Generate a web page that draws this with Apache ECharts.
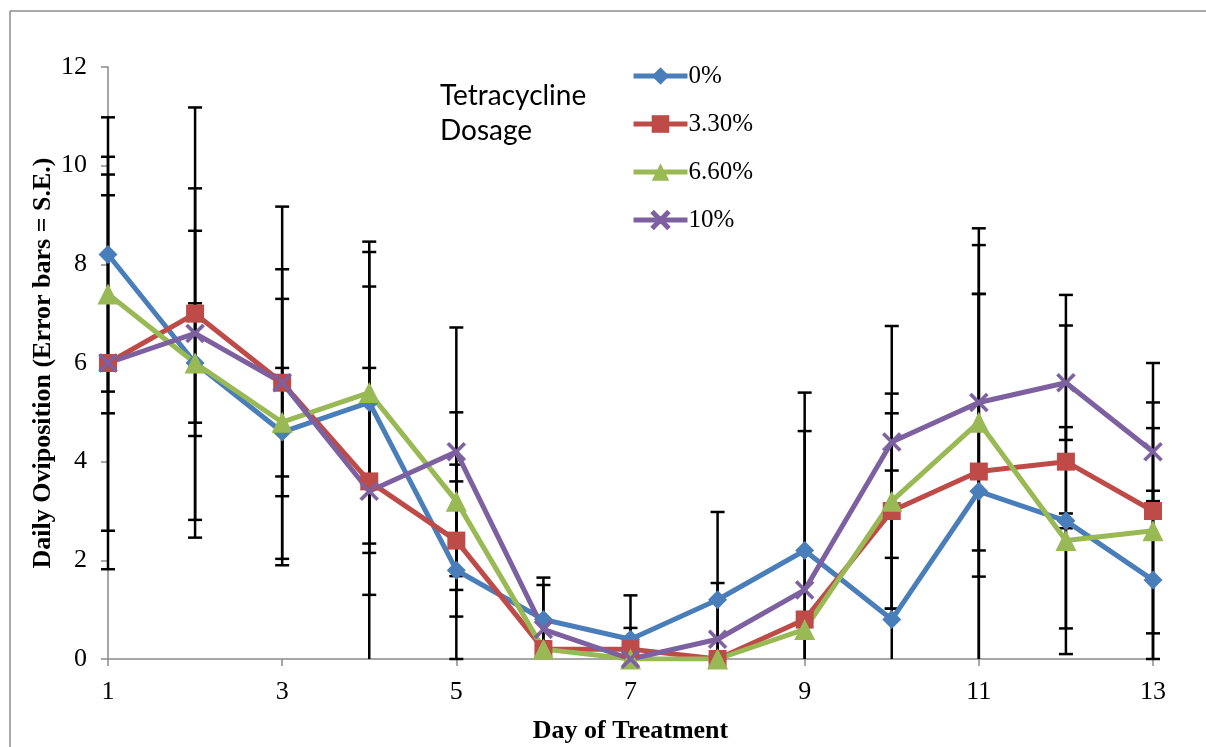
<!DOCTYPE html>
<html>
<head>
<meta charset="utf-8">
<title>Daily Oviposition by Tetracycline Dosage</title>
<script src="https://cdn.jsdelivr.net/npm/echarts@6/dist/echarts.min.js"></script>
<style>
  html, body { margin: 0; padding: 0; background: #ffffff; }
  #chart { width: 1206px; height: 747px; }
</style>
</head>
<body>
<div id="chart"></div>
<script>
// Day of treatment (x values)
const days = [1, 2, 3, 4, 5, 6, 7, 8, 9, 10, 11, 12, 13];
const xTickValues = [1, 3, 5, 7, 9, 11, 13];

// Dosage groups
const seriesNames = ['0%', '3.30%', '6.60%', '10%'];

// Mean daily oviposition per dosage
const dose0 = [8.2, 6.0, 4.6, 5.2, 1.8, 0.8, 0.4, 1.2, 2.2, 0.8, 3.4, 2.8, 1.6];
const dose33 = [6.0, 7.0, 5.6, 3.6, 2.4, 0.2, 0.2, 0.0, 0.8, 3.0, 3.8, 4.0, 3.0];
const dose66 = [7.4, 6.0, 4.8, 5.4, 3.2, 0.2, 0.0, 0.0, 0.6, 3.2, 4.8, 2.4, 2.6];
const dose10 = [6.0, 6.6, 5.6, 3.4, 4.2, 0.6, 0.0, 0.4, 1.4, 4.4, 5.2, 5.6, 4.2];

// Standard errors per dosage
const se0 = [2.78, 3.54, 2.7, 3.05, 1.8, 0.85, 0.89, 1.78, 3.2, 3.02, 4.0, 0.15, 1.81];
const se33 = [4.18, 4.18, 3.57, 2.3, 1.54, 0.15, 0.43, 0, 0.15, 1.98, 4.59, 3.38, 3.0];
const se66 = [2.42, 1.21, 1.1, 3.06, 1.8, 0.15, 0, 0, 0.15, 2.18, 2.6, 2.3, 2.08];
const se10 = [3.4, 2.08, 2.3, 4.15, 2.52, 0.9, 0, 1.14, 3.22, 2.35, 3.53, 1.16, 1.0];

const means = [dose0, dose33, dose66, dose10];
const errors = [se0, se33, se66, se10];

const colors = ['#4A7EBB', '#BE4B48', '#98B954', '#7D60A0'];
const xMark = 'path://M0,1.2 L1.2,0 L5,3.8 L8.8,0 L10,1.2 L6.2,5 L10,8.8 L8.8,10 L5,6.2 L1.2,10 L0,8.8 L3.8,5 Z';
const symbols = ['diamond', 'rect', 'triangle', xMark];
const symbolSizes = [19, 18, 21, 19];

const serif = '"Liberation Serif", "Times New Roman", serif';

// Error bar rows: [day, low, high, hasLowCap]
const errorRows = [];
means.forEach((vals, s) => {
  vals.forEach((v, i) => {
    const e = errors[s][i];
    if (!e) return;
    const lowRaw = v - e;
    errorRows.push([days[i], Math.max(0, lowRaw), v + e, lowRaw >= 0 ? 1 : 0]);
  });
});

const chart = echarts.init(document.getElementById('chart'), null, { renderer: 'canvas' });

const lineSeries = seriesNames.map((name, s) => ({
  name: name,
  type: 'line',
  z: 3,
  data: days.map((d, i) => [d, means[s][i]]),
  symbol: symbols[s],
  symbolSize: symbolSizes[s],
  showAllSymbol: true,
  lineStyle: { color: colors[s], width: 5 },
  itemStyle: { color: colors[s], borderColor: colors[s], borderWidth: s === 3 ? 0.5 : 0 },
  emphasis: { disabled: true },
  animation: false
}));

const errorSeries = {
  name: 'S.E.',
  type: 'custom',
  z: 2,
  data: errorRows,
  encode: { x: 0, y: [1, 2] },
  clip: false,
  animation: false,
  silent: true,
  renderItem: function (params, api) {
    const x = api.value(0);
    const top = api.coord([x, api.value(2)]);
    const bottom = api.coord([x, api.value(1)]);
    const capHalf = 7;
    const style = { stroke: '#000000', lineWidth: 2.5 };
    const children = [
      { type: 'line', shape: { x1: top[0], y1: top[1], x2: bottom[0], y2: bottom[1] }, style: style },
      { type: 'line', shape: { x1: top[0] - capHalf, y1: top[1], x2: top[0] + capHalf, y2: top[1] }, style: style }
    ];
    if (api.value(3)) {
      children.push({ type: 'line', shape: { x1: bottom[0] - capHalf, y1: bottom[1], x2: bottom[0] + capHalf, y2: bottom[1] }, style: style });
    }
    return { type: 'group', children: children };
  }
};

const option = {
  backgroundColor: '#ffffff',
  animation: false,
  grid: { left: 108, right: 53, top: 67, bottom: 88, containLabel: false, outerBoundsMode: 'none' },
  xAxis: {
    type: 'value',
    min: 1,
    max: 13,
    name: 'Day of Treatment',
    nameLocation: 'middle',
    nameGap: 59,
    nameTextStyle: { fontFamily: serif, fontSize: 26, fontWeight: 'bold', color: '#000000' },
    axisLine: { show: true, onZero: false, lineStyle: { color: '#8a8a8a', width: 1.5 } },
    axisTick: { show: true, inside: false, length: 7, customValues: xTickValues, lineStyle: { color: '#8a8a8a', width: 1.5 } },
    axisLabel: { customValues: xTickValues, margin: 20, fontFamily: serif, fontSize: 26, color: '#000000' },
    splitLine: { show: false }
  },
  yAxis: {
    type: 'value',
    min: 0,
    max: 12,
    interval: 2,
    name: 'Daily Oviposition (Error bars = S.E.)',
    nameLocation: 'middle',
    nameGap: 52,
    nameMoveOverlap: false,
    nameRotate: 90,
    nameTextStyle: { fontFamily: serif, fontSize: 26, fontWeight: 'bold', color: '#000000' },
    axisLine: { show: true, lineStyle: { color: '#8a8a8a', width: 1.5 } },
    axisTick: { show: true, inside: false, length: 7, lineStyle: { color: '#8a8a8a', width: 1.5 } },
    axisLabel: { margin: 21, fontFamily: serif, fontSize: 26, color: '#000000' },
    splitLine: { show: false }
  },
  legend: {
    data: seriesNames,
    orient: 'vertical',
    left: 626,
    top: 57,
    itemWidth: 54,
    itemHeight: 22,
    itemGap: 20,
    selectedMode: false,
    lineStyle: { width: 5 },
    textStyle: { fontFamily: serif, fontSize: 25, color: '#000000', lineHeight: 28, padding: [0, 0, 0, -4] }
  },
  graphic: [
    {
      type: 'line',
      silent: true,
      shape: { x1: 10, y1: 11, x2: 1206, y2: 11 },
      style: { stroke: '#8c8c8c', lineWidth: 1.5 }
    },
    {
      type: 'line',
      silent: true,
      shape: { x1: 10, y1: 11, x2: 10, y2: 747 },
      style: { stroke: '#8c8c8c', lineWidth: 1.5 }
    },
    {
      type: 'text',
      silent: true,
      left: 440,
      top: 78,
      style: {
        text: 'Tetracycline\nDosage',
        fontFamily: 'Lato, "Open Sans", sans-serif',
        fontSize: 28,
        lineHeight: 35,
        fill: '#000000'
      }
    }
  ],
  series: [errorSeries].concat(lineSeries)
};

chart.setOption(option);
</script>
</body>
</html>
